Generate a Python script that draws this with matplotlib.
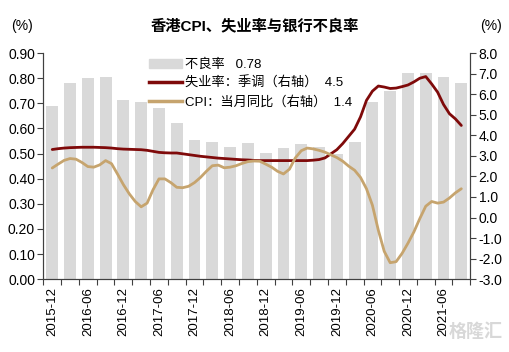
import matplotlib
matplotlib.use('Agg')
import matplotlib.pyplot as plt
from matplotlib.patches import Patch
from matplotlib.lines import Line2D
import numpy as np

plt.rcParams['font.family'] = ['Liberation Sans', 'Noto Sans CJK SC', 'DejaVu Sans']

# 季度标签 (2015-12 ~ 2021-09)
quarters = ['2015-12', '2016-03', '2016-06', '2016-09', '2016-12', '2017-03',
            '2017-06', '2017-09', '2017-12', '2018-03', '2018-06', '2018-09',
            '2018-12', '2019-03', '2019-06', '2019-09', '2019-12', '2020-03',
            '2020-06', '2020-09', '2020-12', '2021-03', '2021-06', '2021-09']

# 不良率 (%)，左轴
npl = [0.69, 0.78, 0.80, 0.805, 0.715, 0.705, 0.683, 0.623, 0.555, 0.548, 0.525, 0.543,
       0.503, 0.523, 0.538, 0.525, 0.50, 0.547, 0.706, 0.75, 0.819, 0.819, 0.806, 0.782]

# 失业率：季调 (%)，右轴，月度 2015-12 ~ 2021-09
unemp = [3.31, 3.35, 3.38, 3.40, 3.41, 3.42, 3.42, 3.42, 3.41, 3.40, 3.38, 3.35,
         3.33, 3.32, 3.31, 3.30, 3.27, 3.22, 3.17, 3.15, 3.14, 3.14, 3.10, 3.06,
         3.02, 2.98, 2.95, 2.92, 2.89, 2.87, 2.85, 2.83, 2.81, 2.80, 2.78, 2.77,
         2.77, 2.77, 2.77, 2.77, 2.77, 2.77, 2.77, 2.77, 2.79, 2.82, 2.90, 3.10,
         3.30, 3.60, 3.95, 4.30, 4.90, 5.70, 6.15, 6.40, 6.35, 6.28, 6.30, 6.37,
         6.45, 6.60, 6.78, 6.86, 6.50, 6.10, 5.50, 5.05, 4.80, 4.48]

# CPI：当月同比 (%)，右轴，月度
cpi = [2.41, 2.60, 2.78, 2.87, 2.84, 2.68, 2.48, 2.45, 2.56, 2.77, 2.62, 2.12,
       1.60, 1.15, 0.78, 0.52, 0.70, 1.35, 1.88, 1.88, 1.70, 1.47, 1.45, 1.52,
       1.70, 1.95, 2.25, 2.52, 2.55, 2.42, 2.45, 2.52, 2.63, 2.72, 2.75, 2.74,
       2.60, 2.45, 2.25, 2.12, 2.35, 2.90, 3.25, 3.38, 3.34, 3.27, 3.18, 3.05,
       2.92, 2.74, 2.50, 2.30, 1.95, 1.40, 0.60, -0.62, -1.65, -2.20, -2.15, -1.75,
       -1.25, -0.70, -0.05, 0.55, 0.78, 0.70, 0.75, 0.95, 1.20, 1.40]

bar_color = '#d9d9d9'
red = '#7f0a0a'
tan = '#c6a46e'
spine_c = '#404040'

fig = plt.figure(figsize=(5.1, 3.52), dpi=100)
ax = fig.add_axes([0.085, 0.207, 0.837, 0.642])
ax2 = ax.twinx()

xb = np.arange(len(quarters))
ax.bar(xb, npl, width=0.67, color=bar_color, zorder=1)

xm = np.arange(len(unemp)) / 3.0
ax2.plot(xm, unemp, color=red, lw=2.0, solid_capstyle='round')
ax2.plot(xm, cpi, color=tan, lw=2.0, solid_capstyle='round')

ax.set_xlim(-0.5, len(quarters) - 0.5)
ax.set_ylim(0, 0.9)
ax2.set_ylim(-3, 8)

ax.set_yticks(np.arange(0, 0.91, 0.1))
ax.set_yticklabels(['%.2f' % v for v in np.arange(0, 0.91, 0.1)], fontsize=10)
ax2.set_yticks(np.arange(-3, 8.1, 1))
ax2.set_yticklabels(['%.1f' % v for v in np.arange(-3, 8.1, 1)], fontsize=10)

# x轴：刻度在类别之间，标签每两季度
ax.set_xticks(np.arange(-0.5, len(quarters), 1))
ax.set_xticklabels([])
ax.set_xticks(xb[::2], minor=True)
ax.set_xticklabels(quarters[::2], minor=True, rotation=90, fontsize=9.5)
ax.tick_params(axis='x', which='major', length=4, direction='out', color=spine_c)
ax.tick_params(axis='x', which='minor', length=0, pad=6)
ax.tick_params(axis='y', length=4, direction='out', color=spine_c, pad=2)
ax2.tick_params(axis='y', length=4, direction='out', color=spine_c, pad=2)

for a in (ax, ax2):
    a.spines['top'].set_visible(False)
    for s in ('left', 'right', 'bottom'):
        a.spines[s].set_color(spine_c)
        a.spines[s].set_linewidth(0.8)

handles = [Patch(color=bar_color),
           Line2D([0], [0], color=red, lw=2.5),
           Line2D([0], [0], color=tan, lw=2.5)]
labels = ['不良率   0.78', '失业率：季调（右轴）  4.5', 'CPI：当月同比（右轴）  1.4']
leg = ax2.legend(handles, labels, loc='upper left', bbox_to_anchor=(0.235, 1.0),
                 frameon=False, fontsize=9.5, handlelength=2.5, handletextpad=0.25,
                 labelspacing=0.45, borderaxespad=0)

fig.text(0.5, 0.926, '香港CPI、失业率与银行不良率', ha='center', va='center',
         fontsize=11, fontweight='bold')
fig.text(0.043, 0.926, '(%)', ha='center', va='center', fontsize=10)
fig.text(0.962, 0.926, '(%)', ha='center', va='center', fontsize=10)
fig.text(0.985, 0.055, '格隆汇', ha='right', va='center', fontsize=13,
         color='#d8d8d8', fontweight='bold')

fig.savefig('out.png', dpi=100)
